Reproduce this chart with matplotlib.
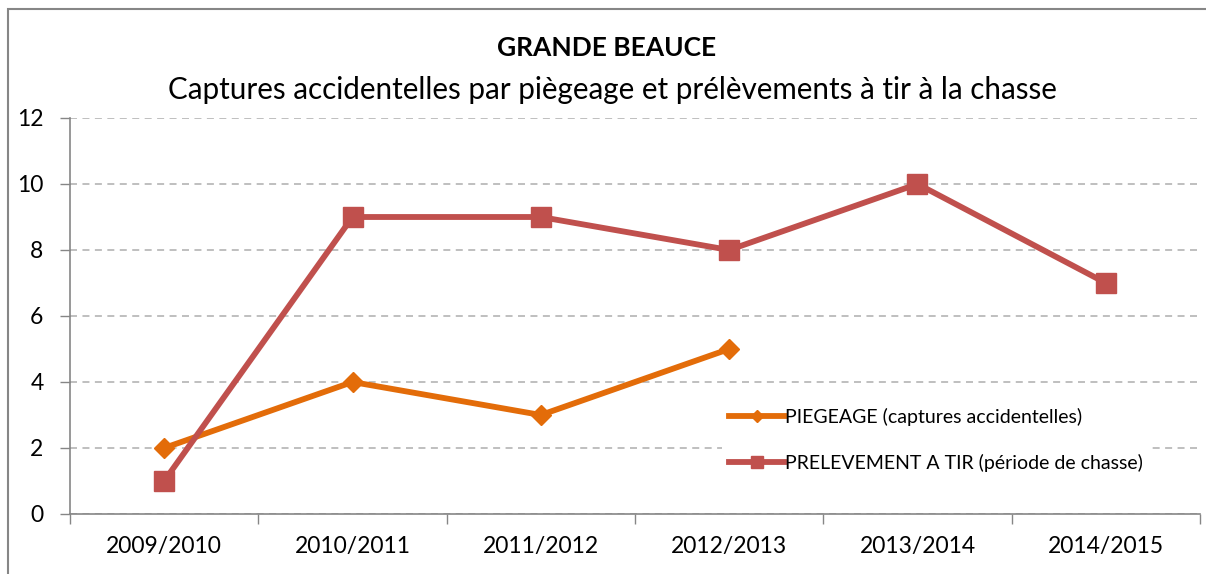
import matplotlib
matplotlib.use("Agg")
import matplotlib.pyplot as plt
from matplotlib.patches import Rectangle
import numpy as np

plt.rcParams['font.family'] = ['Lato', 'DejaVu Sans']

saisons = ['2009/2010', '2010/2011', '2011/2012', '2012/2013', '2013/2014', '2014/2015']
piegeage = [2, 4, 3, 5, np.nan, np.nan]
prelevement = [1, 9, 9, 8, 10, 7]
y_ticks = [0, 2, 4, 6, 8, 10, 12]

orange = '#E36C09'
rouge = '#C0504D'
gris = '#868686'

fig = plt.figure(figsize=(12.06, 5.74), dpi=100)
ax = fig.add_axes([70 / 1206, 1 - 514 / 574, 1130 / 1206, 396 / 574])

x = np.arange(len(saisons))
ax.plot(x, piegeage, color=orange, lw=4.2, marker='D', ms=10.5,
        label='PIEGEAGE (captures accidentelles)', zorder=3)
ax.plot(x, prelevement, color=rouge, lw=4.2, marker='s', ms=15,
        label='PRELEVEMENT A TIR (période de chasse)', zorder=3)

ax.set_xlim(-0.5, len(saisons) - 0.5)
ax.set_ylim(0, 12)
ax.set_yticks(y_ticks)
ax.set_yticklabels([str(v) for v in y_ticks], fontsize=16.5)
ax.set_xticks(x)
ax.set_xticklabels(saisons, fontsize=16.5)
ax.set_xticks(np.arange(-0.5, len(saisons)), minor=True)
ax.tick_params(axis='x', which='major', length=0, pad=16)
ax.tick_params(axis='x', which='minor', length=7, color=gris, width=1)
ax.tick_params(axis='y', length=7, color=gris, width=1, pad=12)

ax.grid(axis='y', color='#BFBFBF', ls=(0, (3.6, 2.8)), lw=1.4)
ax.set_axisbelow(True)
for side in ['top', 'right']:
    ax.spines[side].set_visible(False)
for side in ['left', 'bottom']:
    ax.spines[side].set_color(gris)
    ax.spines[side].set_linewidth(1.2)

leg = ax.legend(loc='lower left', bbox_to_anchor=(0.568, 0.062), frameon=True,
                fontsize=14, handlelength=2.8, handletextpad=0.05,
                labelspacing=1.45, borderpad=0.4, edgecolor='none', framealpha=1,
                fancybox=False, markerscale=0.6)

fig.text(607 / 1206, 1 - 48 / 574, 'GRANDE BEAUCE', ha='center', va='center',
         fontsize=19, fontweight='bold')
fig.text(612 / 1206, 1 - 90 / 574,
         'Captures accidentelles par piègeage et prélèvements à tir à la chasse',
         ha='center', va='center', fontsize=21.3)

fig.add_artist(Rectangle((8 / 1206, -0.05), 1.1, 1 - 9 / 574 + 0.05,
                         transform=fig.transFigure, fill=False,
                         edgecolor=gris, lw=1.5, clip_on=False))

fig.savefig('out.png', dpi=100)
